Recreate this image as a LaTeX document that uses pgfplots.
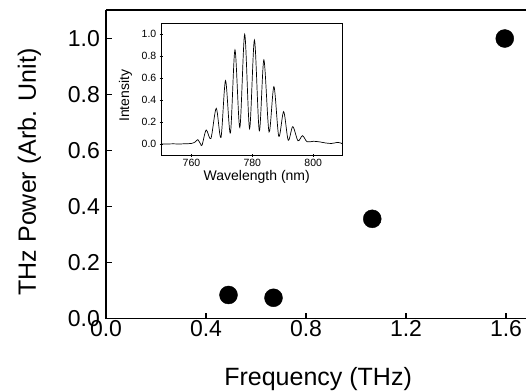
\documentclass[border=0pt]{standalone}
\usepackage{fontspec}
\setmainfont{Liberation Sans}
\usepackage{pgfplots}
\pgfplotsset{compat=1.18}
\begin{document}
\begin{tikzpicture}
\begin{axis}[
  name=main, at={(0,0)}, anchor=south west,
  scale only axis, width=420pt, height=308.5pt,
  xmin=0, xmax=1.68, ymin=0, ymax=1.1018,
  axis x line=box, axis y line=left,
  axis line style={-, line width=1.8pt},
  xtick={0,0.4,0.8,1.2,1.6}, ytick={0,0.2,0.4,0.6,0.8,1.0},
  xtick pos=bottom, ytick pos=left,
  tick align=inside, major tick length=6pt,
  tick style={line width=1.8pt, black},
  /pgf/number format/.cd, fixed, fixed zerofill, precision=1, assume math mode=true,
  /pgfplots/.cd,
  ticklabel style={font=\fontsize{23}{26}\selectfont},
  xticklabel style={inner sep=0pt, yshift=-2pt},
  yticklabel style={inner sep=0pt, xshift=-6pt},
  xlabel={Frequency (THz)}, ylabel={THz Power (Arb. Unit)},
  label style={font=\fontsize{25}{28}\selectfont},
  xlabel style={at={(rel axis cs:0.505,-0.2156)}, anchor=base},
  ylabel style={at={(rel axis cs:-0.1667,0.475)}, anchor=base},
]
\addplot[only marks, mark=*, mark size=9pt, black] coordinates {
  (0.49,0.084) (0.67,0.074) (1.065,0.356) (1.595,1.0)
};
\end{axis}
\begin{axis}[
  at={(55pt,163.5pt)}, anchor=south west,
  scale only axis, width=181.7pt, height=131.7pt,
  xmin=750, xmax=809.7, ymin=-0.1, ymax=1.1,
  xtick={760,780,800}, ytick={0,0.2,0.4,0.6,0.8,1.0},
  tick align=center, major tick length=3pt,
  xtick pos=bottom, ytick pos=left,
  axis line style={line width=0.8pt},
  tick style={line width=0.8pt, black},
  ticklabel style={font=\fontsize{10.5}{12}\selectfont},
  xticklabel style={inner sep=0pt, yshift=-2pt, /pgf/number format/assume math mode=true},
  yticklabel style={inner sep=0pt, xshift=-3pt, /pgf/number format/.cd, fixed, fixed zerofill, precision=1, assume math mode=true},
  xlabel={Wavelength (nm)}, ylabel={Intensity},
  label style={font=\fontsize{14}{16}\selectfont},
  xlabel style={at={(rel axis cs:0.527,-0.19)}, anchor=base},
  ylabel style={at={(rel axis cs:-0.176,0.45)}, anchor=base},
]
\addplot[black, line width=0.7pt, smooth, tension=0.5] coordinates {
  (750,0.0) (752,0.0) (754,0.002) (756,0.0) (758,0.003) (760,0.005)
  (761.3,0.02) (762.1,0.04) (763.0,0.0) (763.5,-0.01)
  (764.85,0.128) (766.4,0.05) (768.15,0.325) (769.7,0.06)
  (771.2,0.578) (772.8,0.10) (774.3,0.857) (775.9,0.15)
  (777.5,1.0) (779.1,0.14) (780.7,0.948) (782.3,0.12)
  (783.8,0.766) (785.5,0.11) (787.1,0.523) (788.7,0.07)
  (790.3,0.295) (791.8,0.035) (793.3,0.158) (795.0,0.03)
  (796.5,0.076) (798.0,0.02) (800,0.025) (802,0.02) (804,0.01)
  (806,0.005) (808,0.015) (809,0.01) (809.7,0.0)
};
\end{axis}
\pgfresetboundingbox
\path (-106pt,-72.5pt) rectangle (420pt,318.5pt);
\end{tikzpicture}
\end{document}
